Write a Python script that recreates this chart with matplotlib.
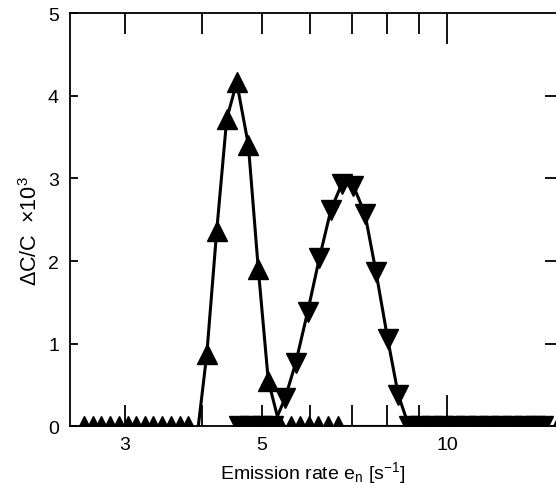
import matplotlib
matplotlib.use('Agg')
import numpy as np
from matplotlib import pyplot as plt
from matplotlib.ticker import FixedLocator, FuncFormatter, NullFormatter

plt.rcParams['font.family'] = ['Liberation Sans', 'DejaVu Sans']
plt.rcParams['mathtext.fontset'] = 'custom'
plt.rcParams['mathtext.rm'] = 'Liberation Sans'
plt.rcParams['mathtext.it'] = 'Liberation Sans:italic'

# trap 1 (up triangles): emission rate [1/s] and dC/C x1e3
e_up = [2.575, 2.663, 2.744, 2.838, 2.935, 3.035, 3.127, 3.234, 3.332, 3.446,
        3.564, 3.687, 3.798, 3.929,
        4.074, 4.228, 4.389, 4.556, 4.759, 4.939, 5.127,
        5.356, 5.582, 5.773, 5.970, 6.174, 6.407, 6.652, 15.14]
dc_up = [0, 0, 0, 0, 0, 0, 0, 0, 0, 0,
         0, 0, 0, -0.12,
         0.877, 2.368, 3.718, 4.162, 3.404, 1.904, 0.554,
         0, 0, 0, 0, 0, 0, 0, 0]

# trap 2 (down triangles)
e_dn = [4.596, 4.788, 5.008, 5.218,
        5.458, 5.680, 5.940, 6.205, 6.480, 6.747, 7.045, 7.360, 7.670, 8.012, 8.335,
        8.676, 9.04, 9.454, 9.851, 10.30, 10.73, 11.23, 11.70, 12.24, 12.75,
        13.34, 13.90, 14.32]
dc_dn = [0, 0, 0, 0,
         0.341, 0.768, 1.388, 2.034, 2.622, 2.932, 2.912, 2.570, 1.865, 1.058, 0.381,
         0, 0, 0, 0, 0, 0, 0, 0, 0, 0,
         0, 0, 0]

fig = plt.figure(figsize=(5.56, 4.85), dpi=100)
ax = fig.add_axes([0.1259, 0.1186, 0.8741, 0.8525])

ax.plot(e_up, dc_up, '-^', color='black', lw=2.2, ms=14)
ax.plot(e_dn, dc_dn, '-v', color='black', lw=2.2, ms=14)

ax.set_xscale('log')
ax.set_xlim(2.443, 15.03)
ax.set_ylim(0, 5)

ax.xaxis.set_major_locator(FixedLocator([10]))
ax.xaxis.set_minor_locator(FixedLocator([3, 4, 5, 6, 7, 8, 9]))
ax.xaxis.set_major_formatter(FuncFormatter(lambda v, p: '%d' % round(v)))
ax.xaxis.set_minor_formatter(FuncFormatter(lambda v, p: '%d' % round(v) if round(v) in (3, 5) else ''))
ax.tick_params(axis='x', which='major', direction='in', length=22, width=1.3,
               top=True, bottom=True, labelsize=14, pad=7, colors='black')
ax.tick_params(axis='x', which='minor', direction='in', length=15, width=1.3,
               top=True, bottom=True, labelsize=14, pad=7)

ax.set_yticks([0, 1, 2, 3, 4, 5])
ax.tick_params(axis='y', direction='in', length=6, width=1.3, left=True,
               right=False, labelsize=14, pad=8)
ax.yaxis.set_minor_locator(FixedLocator([]))

sec = ax.secondary_yaxis('right')
sec.set_yticks([1, 2, 3, 4])
sec.yaxis.set_major_formatter(NullFormatter())
sec.tick_params(direction='in', length=8, width=1.3)
sec.spines['right'].set_visible(False)

ax.spines['right'].set_visible(False)
for s in ['left', 'top', 'bottom']:
    ax.spines[s].set_linewidth(1.3)

ax.set_xlabel('Emission rate e$_{\\mathrm{n}}$ [s$^{-1}$]', fontsize=14, labelpad=4)
ax.set_ylabel('ΔC/C  ×10$^{3}$', fontsize=15.5)
ax.yaxis.set_label_coords(-0.058, 0.475)

fig.savefig('out.png', dpi=100)
